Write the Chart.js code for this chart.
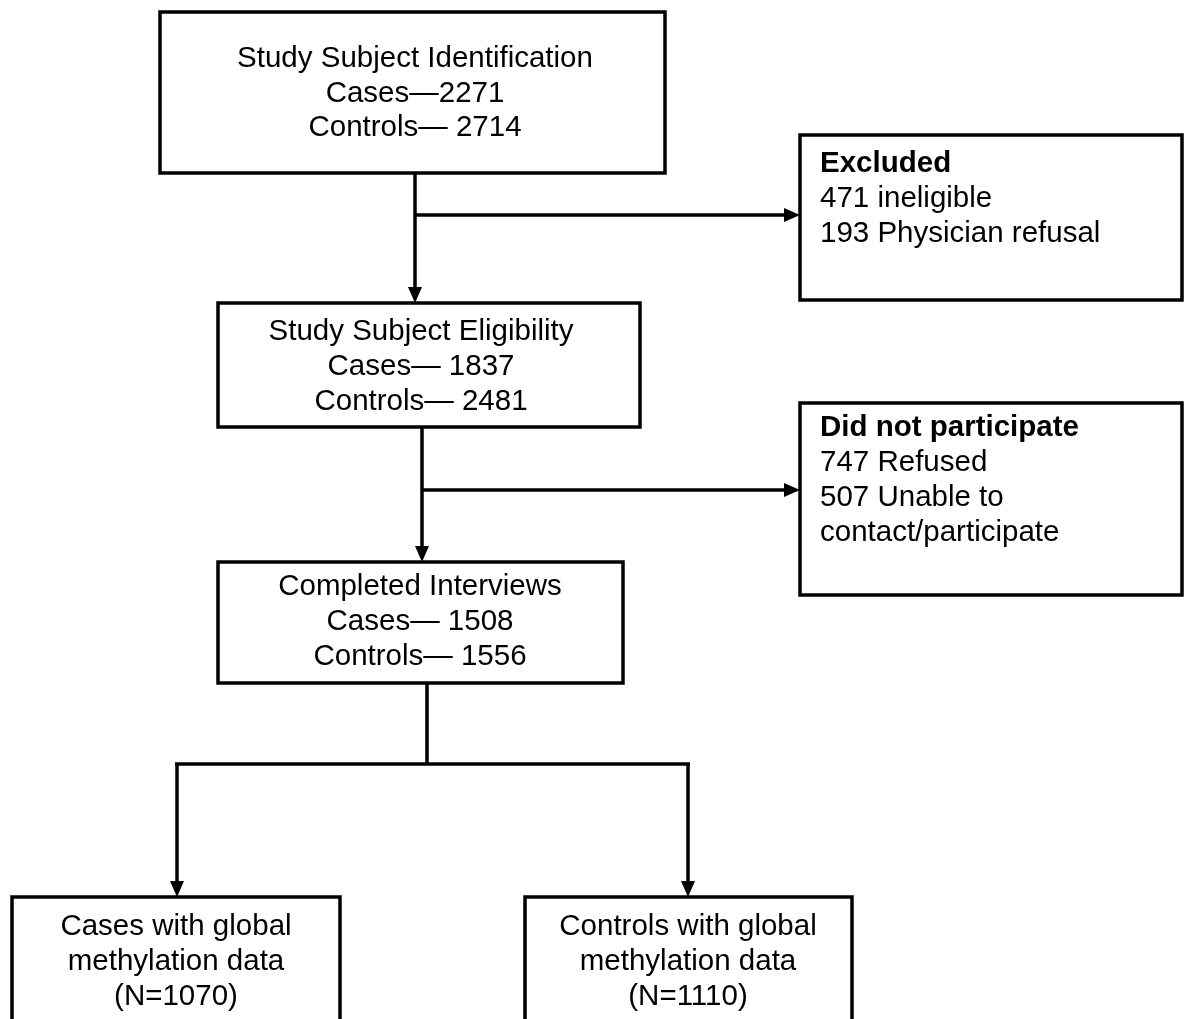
<!DOCTYPE html>
<html>
<head>
<meta charset="utf-8">
<script src="https://cdn.jsdelivr.net/npm/chart.js@4.4.1/dist/chart.umd.min.js"></script>
<style>
  html, body { margin: 0; padding: 0; background: #fff; }
  #wrap { width: 1188px; height: 1019px; position: relative; }
</style>
</head>
<body>
<div id="wrap"><canvas id="flow"></canvas></div>
<script>
// flow data
const stageTitles = ['Study Subject Identification', 'Study Subject Eligibility', 'Completed Interviews'];
const stageCases = [2271, 1837, 1508];
const stageControls = [2714, 2481, 1556];
const casesSep = ['\u2014', '\u2014 ', '\u2014 '];
const controlsSep = ['\u2014 ', '\u2014 ', '\u2014 '];

const exclusionTitles = ['Excluded', 'Did not participate'];
const exclusionLines = [
    ['471 ineligible', '193 Physician refusal'],
    ['747 Refused', '507 Unable to', 'contact/participate']
];

const outcomeGroups = ['Cases', 'Controls'];
const outcomeN = [1070, 1110];

// layout, in axis units (1 unit = 1 px)
const stageBoxes = [
    { x0: 160, x1: 665, y0: 12, y1: 173, cx: 415, rows: [59, 94, 128] },
    { x0: 218, x1: 640, y0: 303, y1: 427, cx: 421, rows: [332, 367, 402] },
    { x0: 218, x1: 623, y0: 562, y1: 683, cx: 420, rows: [587, 622, 657] }
];
const exclusionBoxes = [
    { x0: 800, x1: 1182, y0: 135, y1: 300, tx: 820, rows: [164, 199, 234] },
    { x0: 800, x1: 1182, y0: 403, y1: 595, tx: 820, rows: [428, 463, 498, 533] }
];
const outcomeBoxes = [
    { x0: 12, x1: 340, y0: 897, y1: 1040, cx: 176, rows: [927, 962, 997] },
    { x0: 525, x1: 852, y0: 897, y1: 1040, cx: 688, rows: [927, 962, 997] }
];
// connectors: [xStart, yStart, xEnd, yEnd, arrow]
const connectors = [
    [415, 173, 415, 303, true],
    [415, 215, 800, 215, true],
    [422, 427, 422, 562, true],
    [422, 490, 800, 490, true],
    [427, 683, 427, 764, false],
    [175, 764, 690, 764, false],
    [177, 764, 177, 897, true],
    [688, 764, 688, 897, true]
];

const FONT = '"Liberation Sans", Arial, sans-serif';
const SIZE = 29.5;

const flowPlugin = {
    id: 'flow',
    afterDraw(chart) {
        const ctx = chart.ctx;
        const sx = chart.scales.x, sy = chart.scales.y;
        const px = v => sx.getPixelForValue(v);
        const py = v => sy.getPixelForValue(v);

        ctx.save();
        ctx.strokeStyle = '#000';
        ctx.fillStyle = '#000';
        ctx.lineWidth = 3.5;

        function box(b) {
            ctx.strokeRect(px(b.x0), py(b.y0), px(b.x1) - px(b.x0), py(b.y1) - py(b.y0));
        }

        // connectors
        connectors.forEach(([x0, y0, x1, y1, arrow]) => {
            const ax = px(x0), ay = py(y0), bx = px(x1), by = py(y1);
            const len = Math.hypot(bx - ax, by - ay);
            const ux = (bx - ax) / len, uy = (by - ay) / len;
            const head = arrow ? 14 : 0;
            ctx.beginPath();
            ctx.moveTo(ax, ay);
            ctx.lineTo(bx - ux * head, by - uy * head);
            ctx.stroke();
            if (arrow) {
                ctx.beginPath();
                ctx.moveTo(bx, by);
                ctx.lineTo(bx - ux * 16 - uy * 7, by - uy * 16 + ux * 7);
                ctx.lineTo(bx - ux * 16 + uy * 7, by - uy * 16 - ux * 7);
                ctx.closePath();
                ctx.fill();
            }
        });

        ctx.textBaseline = 'middle';

        // main stages
        stageBoxes.forEach((b, i) => {
            box(b);
            ctx.font = SIZE + 'px ' + FONT;
            ctx.textAlign = 'center';
            const lines = [
                stageTitles[i],
                'Cases' + casesSep[i] + stageCases[i],
                'Controls' + controlsSep[i] + stageControls[i]
            ];
            lines.forEach((t, k) => ctx.fillText(t, px(b.cx), py(b.rows[k])));
        });

        // exclusions
        exclusionBoxes.forEach((b, i) => {
            box(b);
            ctx.textAlign = 'left';
            ctx.font = 'bold ' + SIZE + 'px ' + FONT;
            ctx.fillText(exclusionTitles[i], px(b.tx), py(b.rows[0]));
            ctx.font = SIZE + 'px ' + FONT;
            exclusionLines[i].forEach((t, k) => ctx.fillText(t, px(b.tx), py(b.rows[k + 1])));
        });

        // outcomes
        outcomeBoxes.forEach((b, i) => {
            box(b);
            ctx.textAlign = 'center';
            ctx.font = SIZE + 'px ' + FONT;
            const lines = [outcomeGroups[i] + ' with global', 'methylation data', '(N=' + outcomeN[i] + ')'];
            lines.forEach((t, k) => ctx.fillText(t, px(b.cx), py(b.rows[k])));
        });

        ctx.restore();
    }
};

new Chart(document.getElementById('flow').getContext('2d'), {
    type: 'scatter',
    data: { datasets: [{ data: [], pointRadius: 0 }] },
    options: {
        responsive: true,
        maintainAspectRatio: false,
        animation: false,
        layout: { padding: 0 },
        plugins: { legend: { display: false }, tooltip: { enabled: false } },
        scales: {
            x: { type: 'linear', min: 0, max: 1188, display: false },
            y: { type: 'linear', min: 0, max: 1019, reverse: true, display: false }
        }
    },
    plugins: [flowPlugin]
});
</script>
</body>
</html>
